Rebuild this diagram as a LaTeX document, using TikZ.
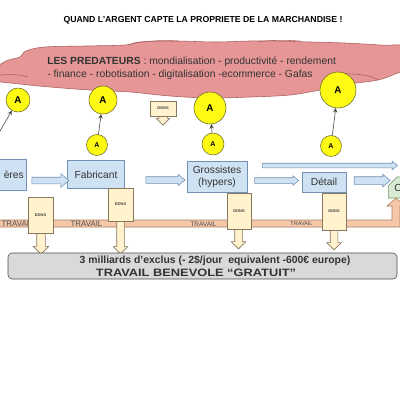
\documentclass[tikz,border=0pt]{standalone}
\usepackage{fontspec}
\setmainfont{Liberation Sans}
\usepackage{tikz}
\usetikzlibrary{shapes.geometric, shapes.arrows, shapes.misc, arrows, positioning}

\definecolor{nuage}{RGB}{230,150,150}
\definecolor{nuagebord}{RGB}{170,95,95}
\definecolor{jaune}{RGB}{255,250,20}
\definecolor{jaunebord}{RGB}{105,105,40}
\definecolor{bleu}{RGB}{207,226,243}
\definecolor{bleubord}{RGB}{115,145,180}
\definecolor{vert}{RGB}{217,234,211}
\definecolor{vertbord}{RGB}{115,150,105}
\definecolor{creme}{RGB}{255,242,204}
\definecolor{cremebord}{RGB}{135,120,95}
\definecolor{bande}{RGB}{246,200,170}
\definecolor{bandebord}{RGB}{170,125,95}
\definecolor{gris}{RGB}{217,217,217}

\def\px{0.25mm}

\tikzstyle{etape} = [rectangle, draw=bleubord, fill=bleu, font=\fontsize{7.3}{8.4}\selectfont, text=black!80, inner sep=0pt]
\tikzstyle{conso} = [chamfered rectangle, chamfered rectangle corners=north west, chamfered rectangle xsep=5*\px, chamfered rectangle ysep=5*\px, draw=vertbord, fill=vert, font=\fontsize{7.3}{8.4}\selectfont, text=black!80, inner sep=0pt]
\tikzstyle{grandA} = [circle, draw=jaunebord, fill=jaune, font=\fontsize{7}{8}\selectfont\bfseries, inner sep=0pt]
\tikzstyle{petitA} = [circle, draw=jaunebord, fill=jaune, font=\fontsize{5}{6}\selectfont\bfseries, inner sep=0pt]
\tikzstyle{flux} = [single arrow, draw=bleubord, fill=bleu, inner xsep=0pt, single arrow tip angle=80]
\tikzstyle{dons} = [rectangle, draw=cremebord, fill=creme, font=\fontsize{2.8}{3}\selectfont\bfseries, text=black!75, inner sep=0pt]
\tikzstyle{donsfleche} = [single arrow, draw=cremebord, fill=creme, inner xsep=0pt, rotate=-90, single arrow tip angle=90]
\tikzstyle{travail} = [text=black!70, inner sep=0pt]
\tikzstyle{arrow} = [->, >=stealth, draw=black!75, thin]

\begin{document}
\begin{tikzpicture}[x=\px, y=-\px]

			\useasboundingbox (0,0) rectangle (400,400);
			\clip (0,0) rectangle (400,400);
			\fill[white] (0,0) rectangle (400,400);

			\node (titre) at (203,20) {\fontsize{6.2}{7}\selectfont\bfseries QUAND L’ARGENT CAPTE LA PROPRIETE DE LA MARCHANDISE !};

			% le nuage des predateurs
			\draw[nuagebord, fill=nuage] plot[smooth cycle, tension=0.6] coordinates {
				(-8,71) (6,61) (20,57) (26,51) (45,47) (85,46) (125,45) (140,42) (175,41)
				(215,42) (250,41) (275,41) (310,42) (345,43) (380,45) (410,47) (412,66)
				(395,74) (378,80) (350,84) (320,90) (290,95) (250,97) (210,98) (170,96)
				(130,92) (90,90) (50,87) (20,84) (-8,80)};
			\draw[nuagebord] (0,75) .. controls (12,74) and (22,75) .. (28,77);
			\draw[nuagebord] (333,74) .. controls (355,73) and (372,75) .. (378,80);
			\draw[nuagebord] (128,45) .. controls (140,41) and (160,40) .. (178,41);
			\draw[nuagebord] (258,42) .. controls (270,40) and (285,40) .. (300,41);
			\node (predateurs) [anchor=west, align=left, inner sep=0pt, text=black!80, font=\fontsize{7.35}{9.2}\selectfont] at (47,68.5)
				{\textbf{LES PREDATEURS} : mondialisation - productivité - rendement\\- finance - robotisation - digitalisation -ecommerce - Gafas};

			% les A
			\node (A1) [grandA, minimum size=24*\px] at (18,100) {A};
			\node (A2) [grandA, minimum size=28*\px] at (103,100) {A};
			\node (A3) [grandA, minimum size=32*\px] at (210,108) {A};
			\node (A4) [grandA, minimum size=36*\px] at (338,90) {A};
			\node (a2) [petitA, minimum size=21*\px] at (97,145) {A};
			\node (a3) [petitA, minimum size=22*\px] at (213,144) {A};
			\node (a4) [petitA, minimum size=21*\px] at (331,146) {A};
			\coordinate (a1) at (-4,138);

			\draw [arrow] (a1) -- (A1);
			\draw [arrow] (a2) -- (A2);
			\draw [arrow] (a3) -- (A3);
			\draw [arrow] (a4) -- (A4);

			% petit dons
			\node (donsfl0) [donsfleche, minimum height=12*\px, inner ysep=4*\px, single arrow head extend=2.5*\px] at (163,117) {};
			\node (dons0) [dons, minimum width=26*\px, minimum height=15*\px] at (163,108.5) {DONS};

			% la chaine
			\node (matieres) [etape, anchor=east, minimum width=50*\px, minimum height=31*\px, text width=44*\px, align=right] at (27,175) {ères};
			\node (fabricant) [etape, minimum width=57*\px, minimum height=28*\px] at (96,174.5) {Fabricant};
			\node (grossistes) [etape, minimum width=60*\px, minimum height=31*\px, align=center] at (217,177) {Grossistes\\(hypers)};
			\node (detail) [etape, minimum width=44*\px, minimum height=20*\px] at (324,182) {Détail};
			\node (conso) [conso, anchor=west, minimum width=40*\px, minimum height=21*\px, text width=28*\px, align=left] at (388,187.5) {C};

			\node (flux1) [flux, minimum height=37*\px, inner ysep=3*\px, single arrow head extend=3.5*\px] at (48.5,180.5) {};
			\node (flux2) [flux, minimum height=39*\px, inner ysep=3*\px, single arrow head extend=2.5*\px] at (163.5,180) {};
			\node (flux3) [flux, minimum height=44*\px, inner ysep=2.5*\px, single arrow head extend=2*\px] at (275,180.5) {};
			\node (flux4) [flux, minimum height=135*\px, inner ysep=2*\px, single arrow head extend=2*\px] at (328.5,165.5) {};
			\node (flux5) [flux, minimum height=36*\px, inner ysep=3.5*\px, single arrow head extend=2.5*\px] at (370,180.5) {};

			% la bande travail
			\draw[bandebord, fill=bande] (-5,220) -- (392,220) -- (392,206) -- (387,206) -- (396,198)
				-- (405,206) -- (400,206) -- (400,227) -- (-5,227) -- cycle;
			\node (travail1) [travail, font=\fontsize{5.6}{6}\selectfont] at (17.5,224) {TRAVAIL};
			\node (travail2) [travail, font=\fontsize{5.6}{6}\selectfont] at (86.5,224) {TRAVAIL};
			\node (travail3) [travail, font=\fontsize{4.6}{5}\selectfont] at (203.5,224) {TRAVAIL};
			\node (travail4) [travail, font=\fontsize{3.9}{4}\selectfont] at (301.5,224) {TRAVAIL};

			% les dons
			\node (donsfl1) [donsfleche, minimum height=24*\px, inner ysep=4*\px, single arrow head extend=3.5*\px] at (41,240) {};
			\node (donsfl2) [donsfleche, minimum height=36*\px, inner ysep=3.5*\px, single arrow head extend=3.5*\px] at (120.5,234) {};
			\node (donsfl3) [donsfleche, minimum height=23*\px, inner ysep=3.5*\px, single arrow head extend=3.5*\px] at (238.5,235.5) {};
			\node (donsfl4) [donsfleche, minimum height=23*\px, inner ysep=3.5*\px, single arrow head extend=3.5*\px] at (334,236.5) {};
			\node (dons1) [dons, minimum width=25*\px, minimum height=36*\px] at (40.5,215) {DONS};
			\node (dons2) [dons, minimum width=25*\px, minimum height=33*\px] at (120.5,204.5) {DONS};
			\node (dons3) [dons, minimum width=24*\px, minimum height=36*\px] at (239,211) {DONS};
			\node (dons4) [dons, minimum width=24*\px, minimum height=37*\px] at (334,211.5) {DONS};

			% les exclus
			\node (exclus) [rectangle, rounded corners=4*\px, draw=black!70, fill=gris, minimum width=389*\px, minimum height=26*\px] at (202.5,266) {};
			\node (exclusA) [font=\fontsize{7.4}{8}\selectfont\bfseries, text=black!80, inner sep=0pt] at (215,260.5) {3 milliards d’exclus (- 2\$/jour\ \ equivalent -600€ europe)};
			\node (exclusB) [font=\fontsize{7.6}{8}\selectfont\bfseries, text=black!80, inner sep=0pt] at (196,272.5) {\scalebox{1.2}[1]{TRAVAIL BENEVOLE “GRATUIT”}};

		\end{tikzpicture}
\end{document}
